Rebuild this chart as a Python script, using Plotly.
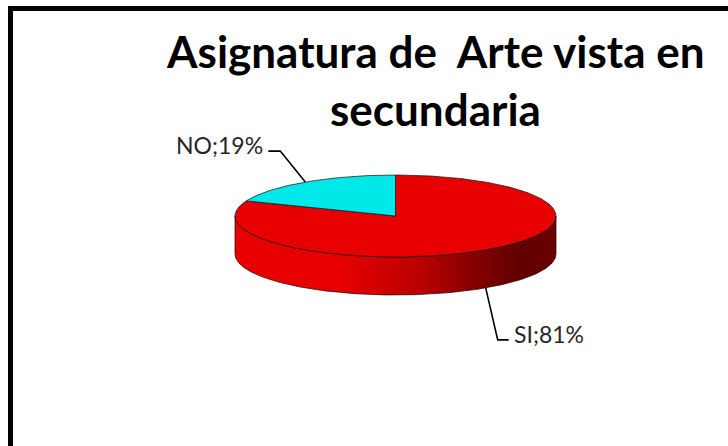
import numpy as np
import plotly.graph_objects as go

# ---- data ----
categories = ["SI", "NO"]
values = [81, 19]
slice_colors = ["#E80000", "#00E8E8"]
title_lines = ["Asignatura de \u00a0Arte vista en", "secundaria"]

# ---- geometry / style ----
W, H = 728, 446
CX, CY = 395.5, 216.0
RX, RY = 160.5, 41.0
DEPTH = 38.0
label_offsets = [(12, 52, 11), (-25, -31, -12)]  # elbow dx, dy, tail dx
title_pos = [(435, 51), (435, 109)]
FONT = "Lato"


def pt(theta_deg, dy=0.0):
    t = np.radians(theta_deg)
    return CX + RX * np.sin(t), CY - RY * np.cos(t) + dy


def hex_to_rgb(h):
    h = h.lstrip("#")
    return tuple(int(h[i:i + 2], 16) for i in (0, 2, 4))


def shade(h, f):
    r, g, b = hex_to_rgb(h)
    return f"rgb({int(r*f)},{int(g*f)},{int(b*f)})"


total = float(sum(values))
bounds = []
acc = 0.0
for v in values:
    a0 = acc / total * 360.0
    acc += v
    a1 = acc / total * 360.0
    bounds.append((a0, a1))

fig = go.Figure()

# side walls (front half only: 90..270 deg clockwise from top)
shade_stops = [(0.0, 1.0), (0.32, 1.0), (0.58, 0.8), (0.77, 0.55), (0.89, 0.42), (1.0, 0.46)]
for (a0, a1), col in zip(bounds, slice_colors):
    s, e = max(a0, 90.0), min(a1, 270.0)
    if e <= s:
        continue
    th = np.linspace(s, e, max(int((e - s) * 2), 2))
    xt, yt = pt(th)
    xb, yb = pt(th[::-1], DEPTH)
    xs = np.concatenate([xt, xb, xt[:1]])
    ys = np.concatenate([yt, yb, yt[:1]])
    fig.add_trace(go.Scatter(
        x=xs, y=ys, mode="lines", fill="toself",
        fillgradient=dict(type="horizontal",
                          colorscale=[[p, shade(col, f)] for p, f in shade_stops],
                          start=CX - RX, stop=CX + RX),
        line=dict(color="rgba(40,0,0,0.9)", width=0.8),
        hoverinfo="skip", showlegend=False))

# top faces
for (a0, a1), col, name in zip(bounds, slice_colors, categories):
    th = np.linspace(a0, a1, max(int((a1 - a0) * 2), 2))
    xa, ya = pt(th)
    xs = np.concatenate([[CX], xa, [CX]])
    ys = np.concatenate([[CY], ya, [CY]])
    fig.add_trace(go.Scatter(
        x=xs, y=ys, mode="lines", fill="toself", fillcolor=col,
        line=dict(color="rgba(20,20,20,0.9)", width=0.8),
        name=name, hoverinfo="skip", showlegend=False))

# labels with leader lines
for (a0, a1), name, v, (edx, edy, tdx) in zip(bounds, categories, values, label_offsets):
    mid = (a0 + a1) / 2.0
    front = 90.0 <= mid <= 270.0
    ax, ay = pt(mid, DEPTH if front else 0.0)
    ex, ey = ax + edx, ay + edy
    tx, ty = ex + tdx, ey
    fig.add_trace(go.Scatter(
        x=[ax, ex, tx], y=[ay, ey, ty], mode="lines",
        line=dict(color="black", width=1.6),
        hoverinfo="skip", showlegend=False))
    pct = round(v / total * 100)
    fig.add_annotation(
        x=tx + (3 if tdx > 0 else -3), y=ty - 6,
        text=f"{name};{pct}%", showarrow=False,
        xanchor="left" if tdx > 0 else "right", yanchor="middle",
        font=dict(family=FONT, size=23, color="#262626"))

# title (two centred lines)
for line, (px, py) in zip(title_lines, title_pos):
    fig.add_annotation(x=px, y=py, text=line, showarrow=False,
                       xanchor="center", yanchor="middle",
                       font=dict(family=FONT, size=44, color="black", weight="bold"))

# chart border (top and left edges visible)
fig.add_shape(type="line", xref="x", yref="y", x0=10.5, y0=8.5, x1=W + 5, y1=8.5,
              line=dict(color="black", width=5))
fig.add_shape(type="line", xref="x", yref="y", x0=10.5, y0=6, x1=10.5, y1=H + 5,
              line=dict(color="black", width=5))

fig.update_layout(
    width=W, height=H,
    margin=dict(l=0, r=0, t=0, b=0),
    paper_bgcolor="white", plot_bgcolor="white",
    xaxis=dict(range=[0, W], visible=False, fixedrange=True),
    yaxis=dict(range=[H, 0], visible=False, fixedrange=True),
    showlegend=False,
)

fig.write_html("out.html", config={"displayModeBar": False},
               post_script="document.body.style.margin='0';")
